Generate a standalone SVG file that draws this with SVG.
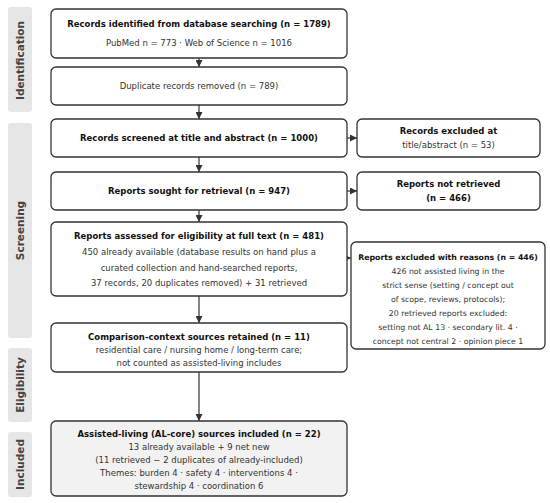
<svg xmlns="http://www.w3.org/2000/svg" width="550" height="503" viewBox="0 0 550 503">
<defs>
<marker id="ah" viewBox="0 0 10 10" refX="10" refY="5" markerWidth="7" markerHeight="7" markerUnits="userSpaceOnUse" orient="auto">
<path d="M0,0 L10,5 L0,10 z" fill="#333"/>
</marker>
<style>
.bar{fill:#e6e6e6;}
.lab{font-family:"DejaVu Sans",sans-serif;font-weight:bold;font-size:10.5px;fill:#444;text-anchor:middle;dominant-baseline:central;}
.box{fill:#fff;stroke:#333;stroke-width:1.3;}
.inc{fill:#f2f2f2;stroke:#333;stroke-width:1.3;}
.t{font-family:"DejaVu Sans",sans-serif;font-weight:bold;font-size:8.5px;fill:#111;text-anchor:middle;dominant-baseline:central;}
.s{font-family:"DejaVu Sans",sans-serif;font-size:8.5px;fill:#333;text-anchor:middle;dominant-baseline:central;}
.sm{font-size:7.8px;}
.c{stroke:#333;stroke-width:1.2;fill:none;marker-end:url(#ah);}
</style>
</defs>
<rect width="550" height="503" fill="#fff"/>
<g id="phases">
<rect class="bar" x="8" y="7" width="24" height="105" rx="3"/>
<text class="lab" transform="translate(20,60.5) rotate(-90)">Identification</text>
<rect class="bar" x="8" y="123" width="24" height="215" rx="3"/>
<text class="lab" transform="translate(20,230.5) rotate(-90)">Screening</text>
<rect class="bar" x="8" y="348" width="24" height="74" rx="3"/>
<text class="lab" transform="translate(20,385) rotate(-90)">Eligibility</text>
<rect class="bar" x="8" y="432" width="24" height="65" rx="3"/>
<text class="lab" transform="translate(20,464.5) rotate(-90)">Included</text>
</g>
<g id="connectors">
<line class="c" x1="199" y1="58" x2="199" y2="67"/>
<line class="c" x1="199" y1="105" x2="199" y2="119"/>
<line class="c" x1="199" y1="157" x2="199" y2="172"/>
<line class="c" x1="199" y1="210" x2="199" y2="222"/>
<line class="c" x1="199" y1="296" x2="199" y2="323"/>
<line class="c" x1="199" y1="372" x2="199" y2="421"/>
<line class="c" x1="347" y1="138" x2="357" y2="138"/>
<line class="c" x1="347" y1="191" x2="357" y2="191"/>
<line class="c" x1="347" y1="258" x2="351" y2="258"/>
</g>
<g id="n1">
<rect class="box" x="51" y="9" width="296" height="49" rx="5"/>
<text class="t" x="199" y="24">Records identified from database searching (n = 1789)</text>
<text class="s" x="199" y="43">PubMed n = 773 · Web of Science n = 1016</text>
</g>
<g id="n2">
<rect class="box" x="51" y="67" width="296" height="38" rx="5"/>
<text class="s" x="199" y="86">Duplicate records removed (n = 789)</text>
</g>
<g id="n3">
<rect class="box" x="51" y="119" width="296" height="38" rx="5"/>
<text class="t" x="199" y="138">Records screened at title and abstract (n = 1000)</text>
</g>
<g id="n3x">
<rect class="box" x="357" y="119" width="183" height="38" rx="5"/>
<text class="t" x="448.5" y="131">Records excluded at</text>
<text class="s" x="448.5" y="145">title/abstract (n = 53)</text>
</g>
<g id="n4">
<rect class="box" x="51" y="172" width="296" height="38" rx="5"/>
<text class="t" x="199" y="191">Reports sought for retrieval (n = 947)</text>
</g>
<g id="n4x">
<rect class="box" x="357" y="172" width="183" height="38" rx="5"/>
<text class="t" x="448.5" y="184">Reports not retrieved</text>
<text class="t" x="448.5" y="198">(n = 466)</text>
</g>
<g id="n5">
<rect class="box" x="51" y="222" width="296" height="74" rx="5"/>
<text class="t" x="199" y="236">Reports assessed for eligibility at full text (n = 481)</text>
<text class="s" x="199" y="252">450 already available (database results on hand plus a</text>
<text class="s" x="199" y="268">curated collection and hand-searched reports,</text>
<text class="s" x="199" y="283">37 records, 20 duplicates removed) + 31 retrieved</text>
</g>
<g id="n5x">
<rect class="box" x="351" y="242" width="194" height="107" rx="5"/>
<text class="t sm" x="448" y="257">Reports excluded with reasons (n = 446)</text>
<text class="s sm" x="448" y="271">426 not assisted living in the</text>
<text class="s sm" x="448" y="285">strict sense (setting / concept out</text>
<text class="s sm" x="448" y="299">of scope, reviews, protocols);</text>
<text class="s sm" x="448" y="313">20 retrieved reports excluded:</text>
<text class="s sm" x="448" y="327">setting not AL 13 · secondary lit. 4 ·</text>
<text class="s sm" x="448" y="341">concept not central 2 · opinion piece 1</text>
</g>
<g id="n6">
<rect class="box" x="51" y="323" width="296" height="49" rx="5"/>
<text class="t" x="199" y="337">Comparison-context sources retained (n = 11)</text>
<text class="s" x="199" y="350">residential care / nursing home / long-term care;</text>
<text class="s" x="199" y="363">not counted as assisted-living includes</text>
</g>
<g id="n7">
<rect class="inc" x="51" y="421" width="296" height="75" rx="5"/>
<text class="t" x="199" y="434">Assisted-living (AL-core) sources included (n = 22)</text>
<text class="s" x="199" y="447">13 already available + 9 net new</text>
<text class="s" x="199" y="460">(11 retrieved − 2 duplicates of already-included)</text>
<text class="s" x="199" y="473">Themes: burden 4 · safety 4 · interventions 4 ·</text>
<text class="s" x="199" y="486">stewardship 4 · coordination 6</text>
</g>
</svg>
